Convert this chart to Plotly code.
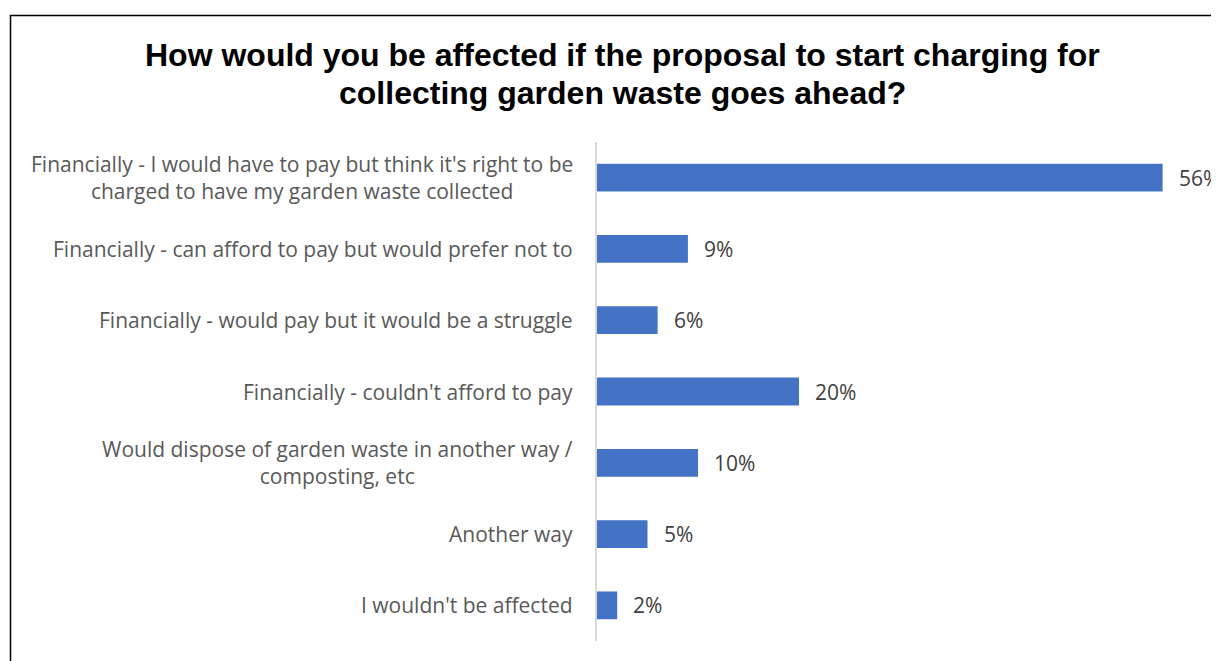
import plotly.graph_objects as go

categories = [
    "Financially - I would have to pay but think it's right to be<br>charged to have my garden waste collected",
    "Financially - can afford to pay but would prefer not to",
    "Financially - would pay but it would be a struggle",
    "Financially - couldn't afford to pay",
    "Would dispose of garden waste in another way /<br>composting, etc",
    "Another way",
    "I wouldn't be affected",
]
values = [56, 9, 6, 20, 10, 5, 2]
value_labels = ["56%", "9%", "6%", "20%", "10%", "5%", "2%"]
title_lines = [
    "How would you be affected if the proposal to start charging for",
    "collecting garden waste goes ahead?",
]

W, H = 1219, 661
OFF = 8  # page body margin offset
L, R, T, B = 597 - OFF, 1203 - OFF, 142 - OFF, 641 - OFF
PW, PH = R - L, B - T

def px(x):
    return (x - OFF - L) / PW

def py(y):
    return (B - (y - OFF)) / PH

FONT = "Open Sans"
LABEL_COLOR = "#595959"
FS = 21

fig = go.Figure(go.Bar(
    x=values, y=list(range(len(categories))), orientation="h",
    marker=dict(color="#4472C4", line=dict(width=0)),
    hoverinfo="skip",
))

anns = []
for i, cat in enumerate(categories):
    anns.append(dict(x=0, y=i, xref="x", yref="y", text=cat, showarrow=False,
                     xanchor="right", yanchor="middle", xshift=-22, align="center",
                     font=dict(family=FONT, size=FS, color=LABEL_COLOR)))

for i, (v, lab) in enumerate(zip(values, value_labels)):
    anns.append(dict(x=v, y=i, xref="x", yref="y", text=lab, showarrow=False,
                     xanchor="left", yanchor="middle", xshift=14,
                     font=dict(family=FONT, size=FS, color="#404040")))

for k, (line, ypix) in enumerate(zip(title_lines, [55, 93])):
    anns.append(dict(x=px(622), y=py(ypix), xref="paper", yref="paper",
                     text="<b>" + line + "</b>",
                     showarrow=False, xanchor="center", yanchor="middle",
                     font=dict(family="Liberation Sans, Arial", size=32, color="#000000")))

fig.update_layout(
    width=W, height=H,
    margin=dict(l=L, r=W - R, t=T, b=H - B, pad=0),
    plot_bgcolor="white", paper_bgcolor="white",
    showlegend=False, bargap=0.61,
    annotations=anns,
    xaxis=dict(range=[0, 60], visible=False, fixedrange=True),
    yaxis=dict(range=[len(categories) - 0.5, -0.5], showticklabels=False,
               showgrid=False, zeroline=False, showline=True,
               linecolor="#d9d9d9", linewidth=2, ticks=""),
    shapes=[dict(type="rect", xref="paper", yref="paper",
                 x0=px(10.5), x1=px(1240), y0=py(15.5), y1=py(690),
                 line=dict(color="#000000", width=1.5), layer="above")],
)

fig.write_html("out.html")
